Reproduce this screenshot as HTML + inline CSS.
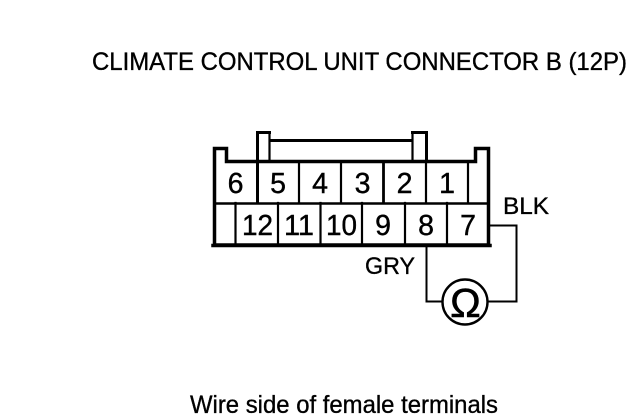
<!DOCTYPE html>
<html><head><meta charset="utf-8"><style>
html,body{margin:0;padding:0;background:#fff}
svg{display:block}
text{font-family:"Liberation Sans",sans-serif;fill:#000;stroke:#000;stroke-width:.35px}
.d{font-size:28.500px;stroke-width:.4px}
</style></head><body>
<svg width="640" height="420" viewBox="0 0 640 420" xmlns="http://www.w3.org/2000/svg">
<g fill="none" stroke="#000" stroke-linecap="square" stroke-linejoin="miter">
<path d="M214.500 245V148.500H226.500V161.500H475.500V148.500H488.500V245Z" stroke-width="3.500"/>
<path d="M213 245.500H490" stroke-width="3.500"/>
<path d="M215 203.500H488" stroke-width="2.500"/>
<path d="M257.500 203V132.500H269.500" stroke-width="3"/>
<path d="M269.500 133V161" stroke-width="2.200"/>
<g stroke-width="2.200">
<path d="M426 203V162M468 203V162M299 203V162M341 203V162"/>
<path d="M235.500 203V245M278 203V245M320.500 203V245M362 203V245M405 203V245M447 203V245"/>
</g>
<path d="M383.500 203V162" stroke-width="2.800"/>
<path d="M270 140.500H412" stroke-width="3"/>
<path d="M412.500 133V161" stroke-width="2.200"/>
<path d="M412.500 132.500H426.500V161" stroke-width="3"/>
<g stroke-width="2">
<path d="M490 225.500H516.500V301.500H488"/>
<path d="M426.500 246V301.500H442"/>
<circle cx="465" cy="302" r="22.500" stroke-width="2.400"/>
</g>
</g>
<text x="92" y="70" textLength="535" lengthAdjust="spacingAndGlyphs" style="font-size:25px">CLIMATE CONTROL UNIT CONNECTOR B (12P)</text>
<g text-anchor="middle">
<text class="d" x="235.500" y="193">6</text>
<text class="d" x="278" y="193">5</text>
<text class="d" x="320" y="193">4</text>
<text class="d" x="362.500" y="193">3</text>
<text class="d" x="404.500" y="193">2</text>
<text class="d" x="447" y="193">1</text>
</g>
<g>
<text class="d" x="242" y="235" textLength="31" lengthAdjust="spacingAndGlyphs">12</text>
<text class="d" x="284" y="235" textLength="30" lengthAdjust="spacingAndGlyphs">11</text>
<text class="d" x="326" y="235" textLength="31" lengthAdjust="spacingAndGlyphs">10</text>
</g>
<g text-anchor="middle">
<text class="d" x="383" y="235">9</text>
<text class="d" x="426" y="235">8</text>
<text class="d" x="468" y="235">7</text>
</g>
<text x="503" y="214" textLength="46" lengthAdjust="spacingAndGlyphs" style="font-size:24.500px">BLK</text>
<text x="365" y="274" textLength="50" lengthAdjust="spacingAndGlyphs" style="font-size:24.500px">GRY</text>
<text x="465.500" y="317" text-anchor="middle" style="font-size:41px;stroke-width:.6px">Ω</text>
<text x="190" y="413" textLength="308" lengthAdjust="spacingAndGlyphs" style="font-size:25px">Wire side of female terminals</text>
</svg>
</body></html>
